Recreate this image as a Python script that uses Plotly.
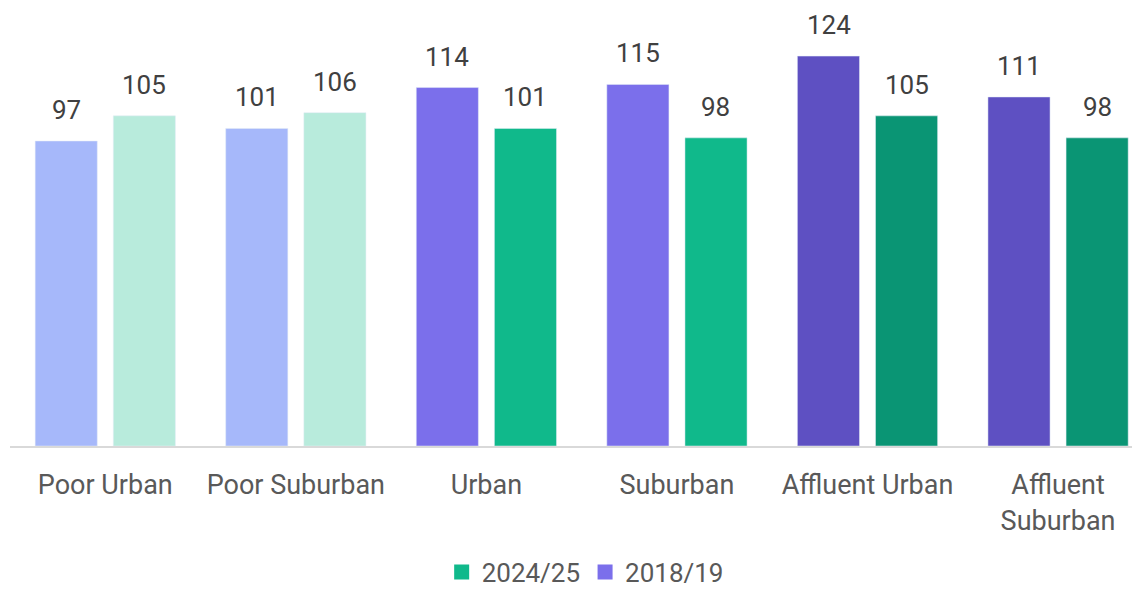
import plotly.graph_objects as go

categories = ["Poor Urban", "Poor Suburban", "Urban", "Suburban", "Affluent Urban", "Affluent<br>Suburban"]
values_2018 = [97, 101, 114, 115, 124, 111]
values_2024 = [105, 106, 101, 98, 105, 98]
colors_2018 = ["#A6B8FA", "#A6B8FA", "#7B6FEB", "#7B6FEB", "#5E50C2", "#5E50C2"]
colors_2024 = ["#B8EBDC", "#B8EBDC", "#10B98B", "#10B98B", "#0A9574", "#0A9574"]

FONT = "Roboto"
x_idx = list(range(len(categories)))

fig = go.Figure()
fig.add_trace(go.Bar(x=x_idx, y=values_2018, marker=dict(color=colors_2018), showlegend=False))
fig.add_trace(go.Bar(x=x_idx, y=values_2024, marker=dict(color=colors_2024), showlegend=False))

# legend entries only (scatter so they don't take bar slots)
fig.add_trace(go.Scatter(x=[None], y=[None], mode="markers", name="2024/25",
                         marker=dict(symbol="square", size=15, color="#10B98B")))
fig.add_trace(go.Scatter(x=[None], y=[None], mode="markers", name="2018/19",
                         marker=dict(symbol="square", size=15, color="#7B6FEB")))

# value labels above bars
for i in x_idx:
    for v, shift in ((values_2018[i], -39), (values_2024[i], 39)):
        fig.add_annotation(
            x=i, y=v, xref="x", yref="y", text=str(v), showarrow=False,
            xshift=shift, yshift=14, yanchor="bottom",
            font=dict(family=FONT, size=26, color="#404040"),
        )

# page body adds an 8px offset, so the figure is 8px smaller each way
fig.update_layout(
    width=1132,
    height=581,
    barmode="group",
    bargap=0.18,
    bargroupgap=0.205,
    plot_bgcolor="white",
    paper_bgcolor="white",
    margin=dict(l=2, r=0, t=0, b=143, autoexpand=False),
    font=dict(family=FONT, size=26, color="#595959"),
    xaxis=dict(
        tickmode="array", tickvals=x_idx, ticktext=categories,
        range=[-0.5, 5.43], showline=True, linecolor="#D9D9D9", linewidth=2,
        ticks="outside", ticklen=14, tickcolor="rgba(0,0,0,0)",
        tickfont=dict(family=FONT, size=27, color="#595959"),
        showgrid=False, zeroline=False, automargin=False,
    ),
    yaxis=dict(range=[0, 139.3], visible=False, showgrid=False),
    legend=dict(
        orientation="h", x=0.509, xanchor="center", y=-0.234, yanchor="top",
        font=dict(family=FONT, size=26, color="#595959"), traceorder="normal",
        itemwidth=30,
    ),
)

fig.write_html("out.html")
